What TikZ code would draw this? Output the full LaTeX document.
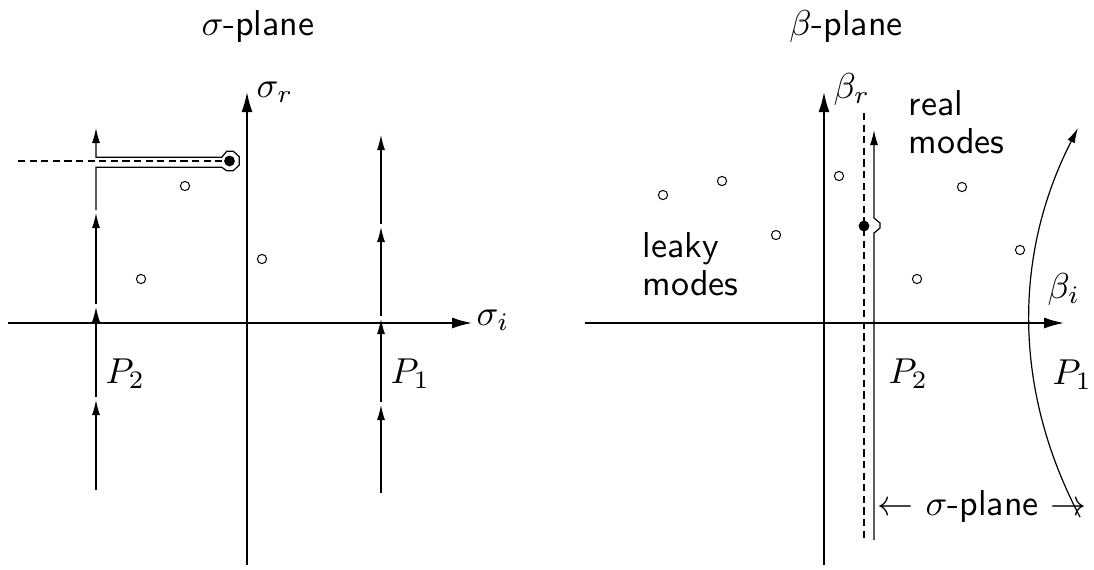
\documentclass[tikz,border=0pt]{standalone}
\usetikzlibrary{arrows.meta}
\begin{document}
\begin{tikzpicture}[x=0.5pt,y=-0.5pt,
  axis/.style={line width=0.85pt,-{Latex[length=10pt,width=5.5pt]}},
  parrow/.style={line width=0.6pt,-{Latex[length=7.5pt,width=4pt]}},
  cutline/.style={line width=0.8pt,dash pattern=on 3.6pt off 2.2pt},
  pole/.style={draw,line width=0.5pt,fill=white},
  spole/.style={fill=black},
  lbl/.style={inner sep=0pt,scale=1.8,font=\fontsize{10}{10.6}\selectfont\sffamily}]
\useasboundingbox (0,0) rectangle (1094,569);
% ---------- left panel: sigma-plane ----------
\draw[axis] (8,323) -- (472,323);
\draw[axis] (247,565) -- (247,92);
\node[lbl,anchor=base] (t1) at (258,35) {$\sigma$-plane};
\node[lbl,anchor=base west] (sr) at (256,97) {$\sigma_r$};
\node[lbl,anchor=base west] (si) at (476,325) {$\sigma_i$};
\node[lbl,anchor=base west] (p2a) at (105,383) {$P_2$};
\node[lbl,anchor=base west] (p1a) at (390,383) {$P_1$};
% path P2 with keyhole
\draw[parrow] (96,490) -- (96,400);
\draw[parrow] (96,397) -- (96,307);
\draw[parrow] (96,304) -- (96,213);
\draw[parrow] (96,210) -- (96,167.3) -- (221.7,167.3) -- (226.7,170.7) -- (233.3,170.7)
  -- (239.3,165) -- (239.3,156.7) -- (233.3,151.3) -- (226.7,151.3) -- (221.7,157.3)
  -- (96,157.3) -- (96,128);
% path P1
\draw[parrow] (381,493) -- (381,405);
\draw[parrow] (381,402) -- (381,319);
\draw[parrow] (381,316) -- (381,227);
\draw[parrow] (381,224) -- (381,135);
% branch cut and branch point
\coordinate (bpL) at (229.5,161);
\draw[cutline] (18,161) -- (bpL);
\fill[spole] (bpL) circle (2.7pt);
% poles
\draw[pole] (185,186) circle (2.3pt);
\draw[pole] (141,279) circle (2.3pt);
\draw[pole] (262,259) circle (2.3pt);
% ---------- right panel: beta-plane ----------
\draw[axis] (585,323) -- (1064,323);
\draw[axis] (824,565) -- (824,92);
\node[lbl,anchor=base] (t2) at (846,35) {$\beta$-plane};
\node[lbl,anchor=base west] (br) at (833,98) {$\beta_r$};
\node[lbl,anchor=base west] (bi) at (1047,298) {$\beta_i$};
\node[lbl,anchor=base west] (p2b) at (888,383) {$P_2$};
\node[lbl,anchor=base west] (p1b) at (1052,384) {$P_1$};
\node[lbl,anchor=base west] (real) at (908,115) {\begin{tabular}[t]{@{}l@{}}real\\modes\end{tabular}};
\node[lbl,anchor=base west] (leaky) at (642,257) {\begin{tabular}[t]{@{}l@{}}leaky\\modes\end{tabular}};
\node[lbl,anchor=base west] (sp) at (877,515) {$\leftarrow$ $\sigma$-plane $\rightarrow$};
% branch cut
\coordinate (bpR) at (864,226);
\draw[cutline] (864,113) -- (864,540);
\fill[spole] (bpR) circle (2.7pt);
% path P2 (sigma-plane image)
\draw[parrow] (874,540) -- (874,233) -- (880,228) -- (880,223) -- (874,218) -- (874,130);
% path P1
\draw[parrow] (1080,517) .. controls (1013,390) and (1013,255) .. (1078,128);
% poles
\draw[pole] (663,195) circle (2.3pt);
\draw[pole] (722,181) circle (2.3pt);
\draw[pole] (776,235) circle (2.3pt);
\draw[pole] (839,176) circle (2.3pt);
\draw[pole] (962,187) circle (2.3pt);
\draw[pole] (917,279) circle (2.3pt);
\draw[pole] (1020,250) circle (2.3pt);
\end{tikzpicture}
\end{document}
